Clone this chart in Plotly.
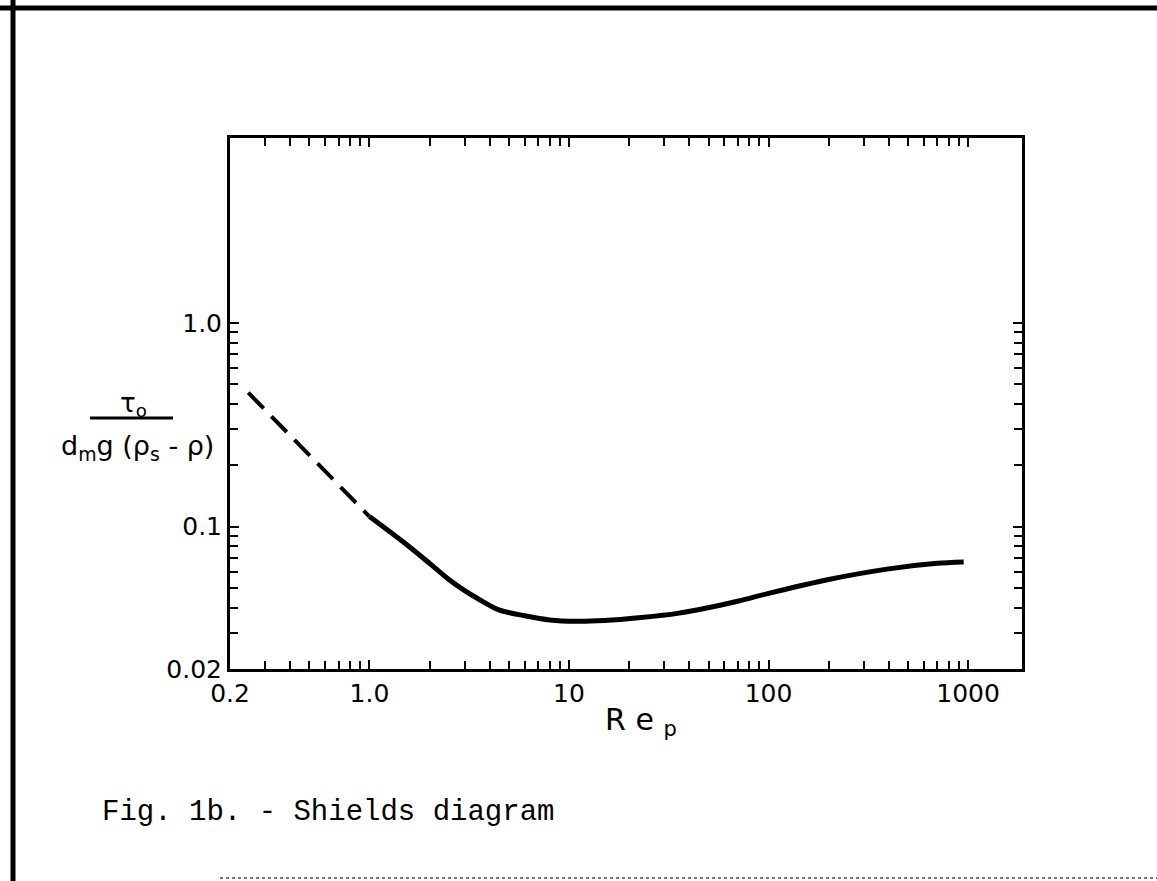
import plotly.graph_objects as go
import numpy as np

# ---- data ----
re_dashed = [0.247, 0.5, 1.0]
tau_dashed = [0.454, 0.225, 0.112]

re_solid = [1.0, 1.5, 2.0, 2.5, 3.0, 3.4, 4.45, 6.0, 8.0, 11.0, 15.0, 23.0, 35.0, 47.0,
            70.0, 100.0, 200.0, 400.0, 700.0, 950.0]
tau_solid = [0.112, 0.083, 0.066, 0.055, 0.0485, 0.045, 0.039, 0.0365, 0.0348, 0.0343,
             0.0346, 0.0358, 0.0375, 0.0395, 0.043, 0.047, 0.055, 0.062, 0.066, 0.067]

x_tickvals = [0.2, 1, 10, 100, 1000]
x_ticktext = ["0.2", "1.0", "10", "100", "1000"]
x_minor = [0.3, 0.4, 0.5, 0.6, 0.7, 0.8, 0.9,
           2, 3, 4, 5, 6, 7, 8, 9,
           20, 30, 40, 50, 60, 70, 80, 90,
           200, 300, 400, 500, 600, 700, 800, 900]
y_tickvals = [1.0, 0.1, 0.02]
y_ticktext = ["1.0", "0.1", "0.02"]
y_minor = [0.9, 0.8, 0.7, 0.6, 0.5, 0.4, 0.3, 0.2,
           0.09, 0.08, 0.07, 0.06, 0.05, 0.04, 0.03]

caption = "Fig. 1b. - Shields diagram"

# ---- layout geometry (pixels) ----
W, H = 1157, 881
L, R, T, B = 230, 1022, 138, 669
PW, PH = R - L, B - T


def px(x):
    return (x - L) / PW


def py(y):
    return (B - y) / PH


fig = go.Figure()
fig.add_trace(go.Scatter(x=re_dashed, y=tau_dashed, mode="lines",
                         line=dict(color="black", width=4, dash="22px,11px"),
                         showlegend=False, hoverinfo="skip"))
fig.add_trace(go.Scatter(x=re_solid, y=tau_solid, mode="lines",
                         line=dict(color="black", width=5, shape="spline", smoothing=0.8),
                         showlegend=False, hoverinfo="skip"))

axis_font = dict(family="DejaVu Sans", size=25, color="black")

fig.update_xaxes(type="log", range=[np.log10(0.2), 3.27],
                 tickmode="array", tickvals=x_tickvals, ticktext=x_ticktext,
                 ticks="inside", ticklen=9, tickwidth=2, tickcolor="black",
                 minor=dict(tickmode="array", tickvals=x_minor, ticks="inside",
                            ticklen=8, tickwidth=2, tickcolor="black"),
                 showline=True, linewidth=3, linecolor="black", mirror="ticks",
                 showgrid=False, zeroline=False, tickfont=axis_font)
fig.update_yaxes(type="log", range=[np.log10(0.02), 0.907],
                 tickmode="array", tickvals=y_tickvals, ticktext=y_ticktext,
                 ticks="inside", ticklen=9, tickwidth=2, tickcolor="black",
                 minor=dict(tickmode="array", tickvals=y_minor, ticks="inside",
                            ticklen=8, tickwidth=2, tickcolor="black"),
                 showline=True, linewidth=3, linecolor="black", mirror="ticks",
                 showgrid=False, zeroline=False, tickfont=axis_font)

# y-axis title as a fraction
fig.add_annotation(xref="paper", yref="paper", x=px(133), y=py(404),
                   xanchor="center", yanchor="middle",
                   text="τ<sub>o</sub>", showarrow=False,
                   font=dict(family="DejaVu Sans", size=26, color="black"))
fig.add_shape(type="line", xref="paper", yref="paper",
              x0=px(90), x1=px(173), y0=py(418), y1=py(418),
              line=dict(color="black", width=3))
fig.add_annotation(xref="paper", yref="paper", x=px(137), y=py(447),
                   xanchor="center", yanchor="middle",
                   text="d<sub>m</sub>g (ρ<sub>s</sub> - ρ)", showarrow=False,
                   font=dict(family="DejaVu Sans", size=27, color="black"))

# x-axis title
fig.add_annotation(xref="paper", yref="paper", x=px(603), y=py(700),
                   xanchor="left", yanchor="top",
                   text="R e <sub>p</sub>", showarrow=False,
                   font=dict(family="DejaVu Sans", size=30, color="black"))

# caption
fig.add_annotation(xref="paper", yref="paper", x=px(100), y=py(812),
                   xanchor="left", yanchor="middle", text=caption, showarrow=False,
                   font=dict(family="Liberation Mono", size=29, color="black"))

# page frame (scan border lines)
fig.add_shape(type="line", xref="paper", yref="paper",
              x0=px(0), x1=px(W), y0=py(8), y1=py(8),
              line=dict(color="black", width=5))
fig.add_shape(type="line", xref="paper", yref="paper",
              x0=px(13), x1=px(13), y0=py(0), y1=py(H),
              line=dict(color="black", width=5))
fig.add_shape(type="line", xref="paper", yref="paper",
              x0=px(220), x1=px(W), y0=py(878), y1=py(878),
              line=dict(color="#777777", width=2, dash="dot"))

fig.update_layout(width=W, height=H,
                  margin=dict(l=L, r=W - R, t=T, b=H - B),
                  paper_bgcolor="white", plot_bgcolor="white",
                  showlegend=False)

fig.write_html("out.html")
